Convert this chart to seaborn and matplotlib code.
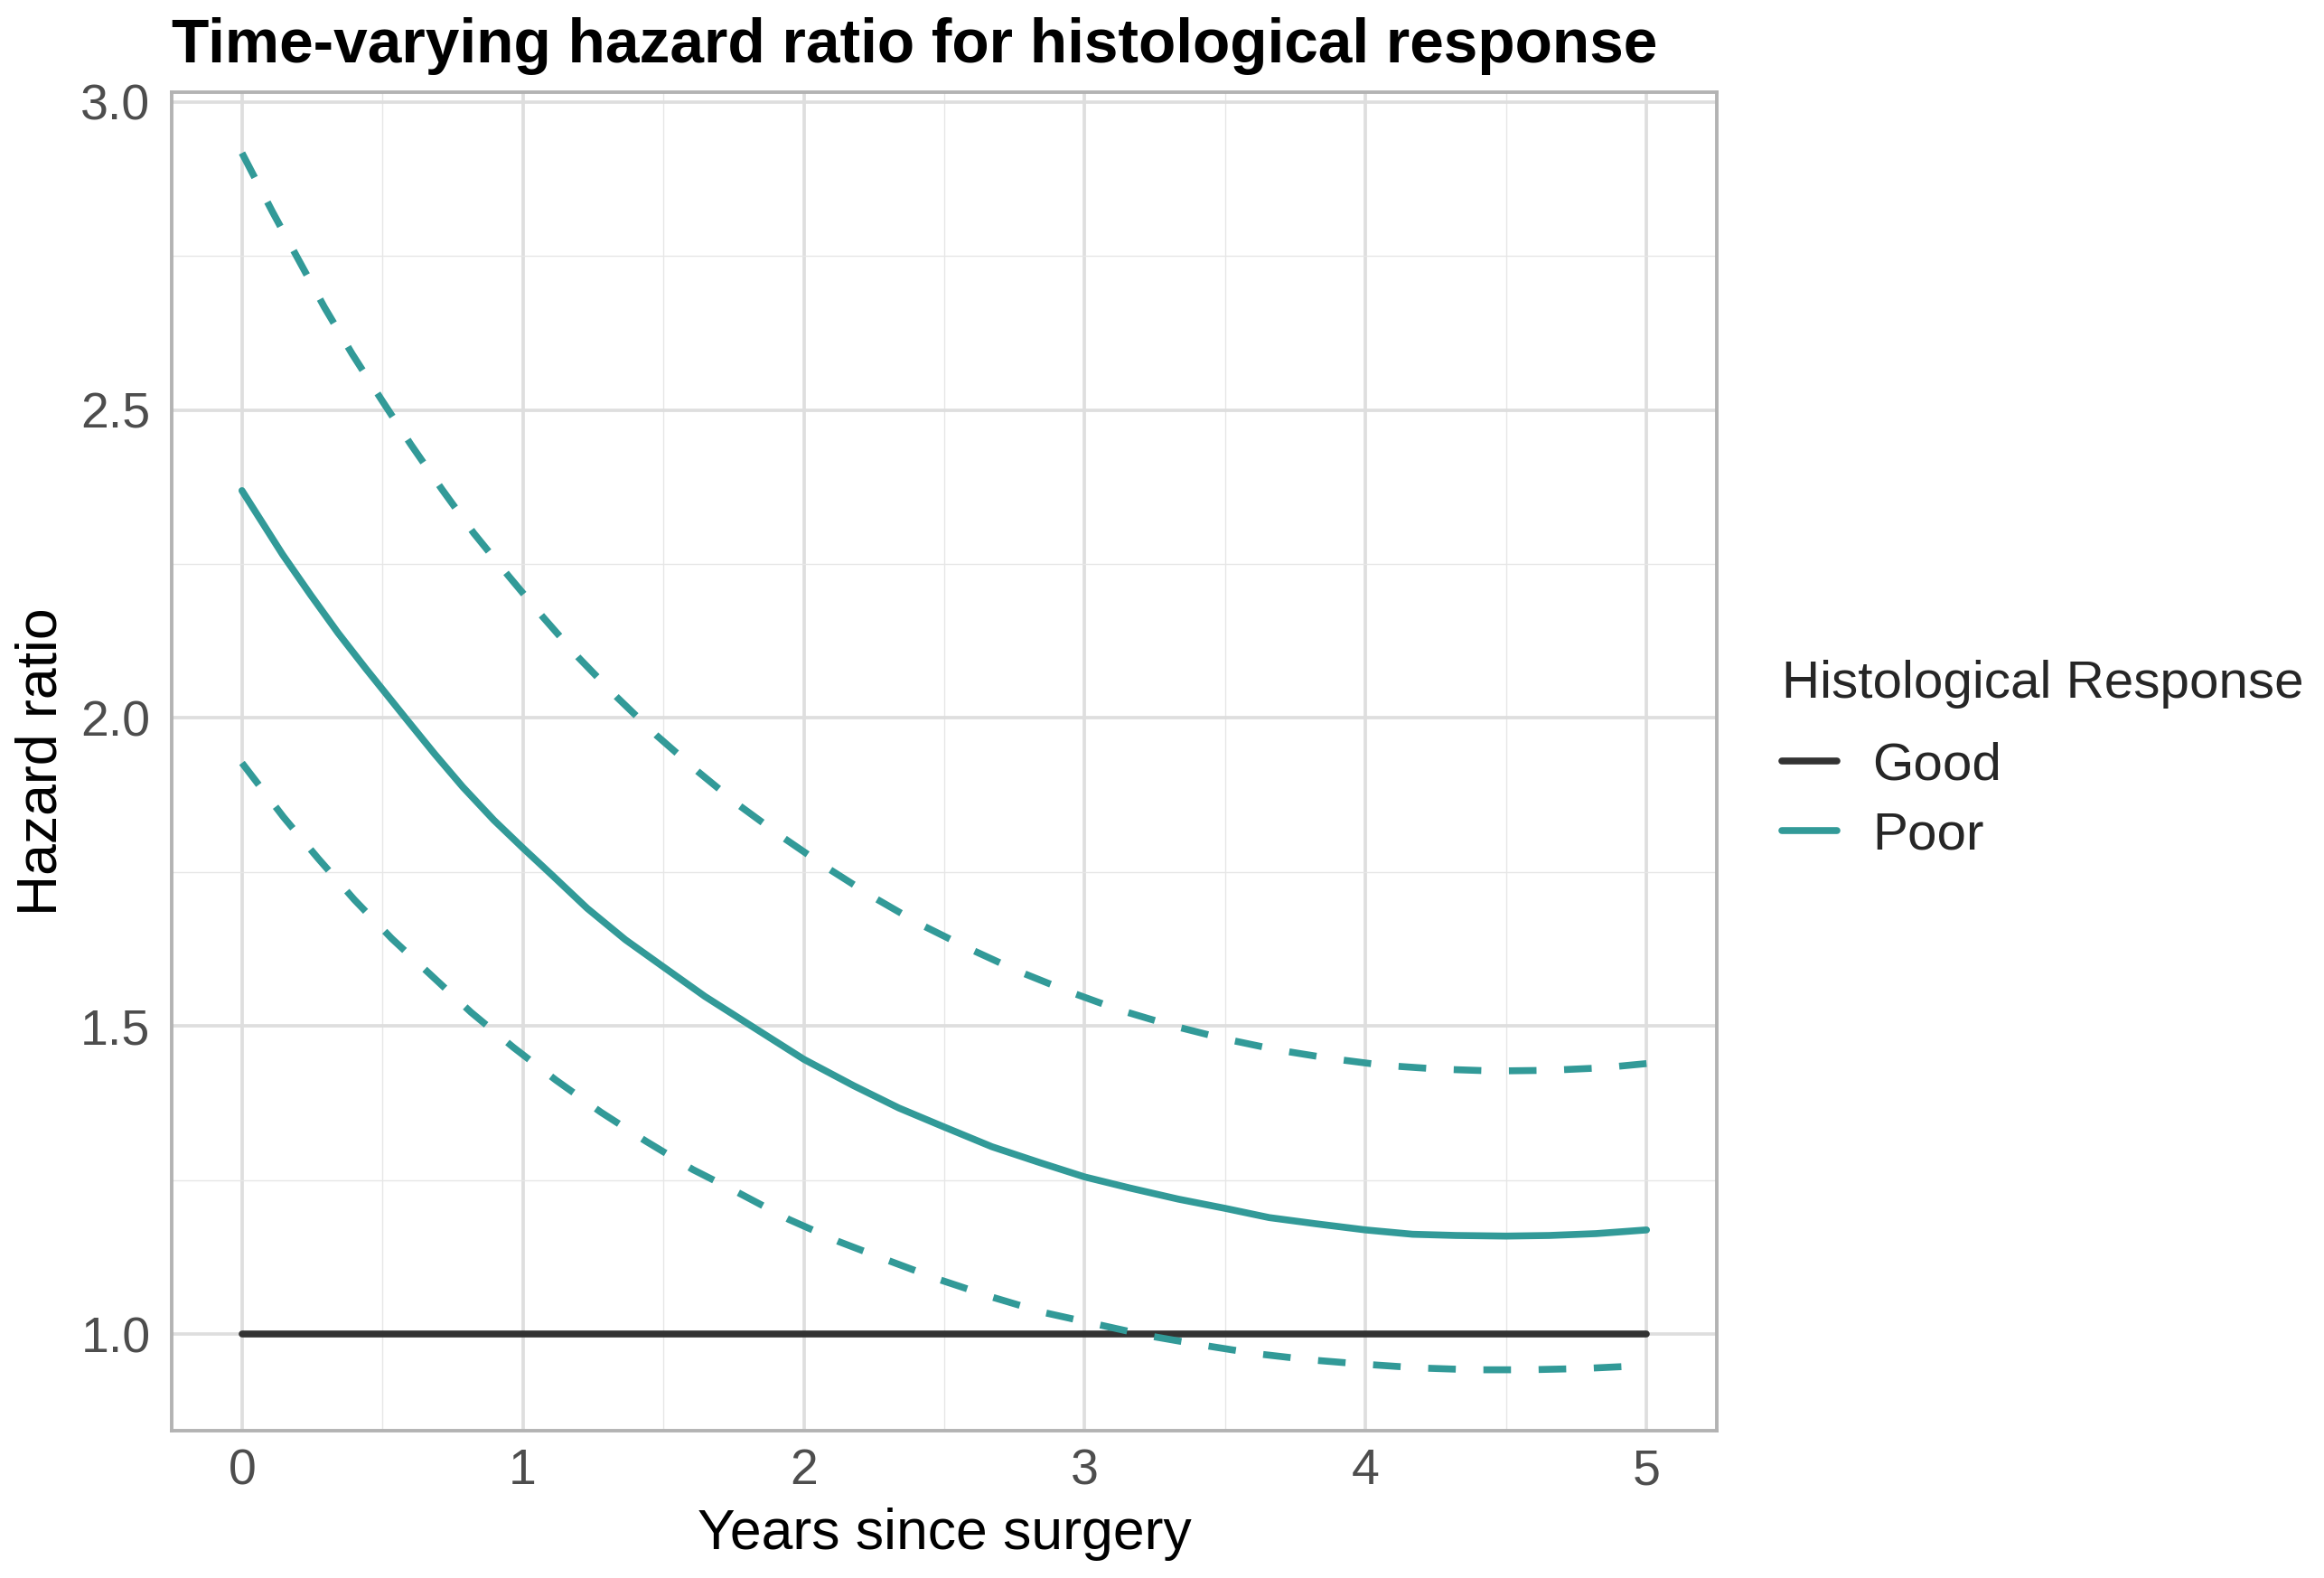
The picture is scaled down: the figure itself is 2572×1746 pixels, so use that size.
import numpy as np
import pandas as pd
import seaborn as sns
import matplotlib
matplotlib.use("Agg")
import matplotlib.pyplot as plt
from matplotlib.lines import Line2D
from matplotlib.ticker import MultipleLocator

# ---- data ----
good_t = [0, 5]
good_hr = [1.0, 1.0]

poor_t = [0, 0.145, 0.244, 0.342, 0.441, 0.589, 0.687, 0.786, 0.897, 1.0, 1.106, 1.229,
          1.365, 1.5, 1.648, 1.810, 2.0, 2.178, 2.338, 2.5, 2.670, 2.842, 3.0, 3.161,
          3.333, 3.5, 3.657, 3.823, 4.0, 4.167, 4.322, 4.5, 4.654, 4.820, 5.0]
poor_hr = [2.369, 2.265, 2.200, 2.138, 2.080, 1.996, 1.941, 1.888, 1.834, 1.789, 1.744, 1.691,
           1.640, 1.596, 1.548, 1.501, 1.446, 1.403, 1.367, 1.336, 1.304, 1.278, 1.255, 1.237,
           1.219, 1.204, 1.189, 1.179, 1.169, 1.162, 1.160, 1.159, 1.160, 1.163, 1.169]

upper_t = [0, 0.108, 0.201, 0.293, 0.392, 0.496, 0.601, 0.712, 0.825, 0.948, 1.071, 1.198,
           1.334, 1.475, 1.623, 1.770, 1.926, 2.086, 2.248, 2.415, 2.587, 2.763, 2.943, 3.124,
           3.308, 3.499, 3.688, 3.879, 4.069, 4.262, 4.456, 4.648, 4.840, 5.0]
upper_hr = [2.917, 2.822, 2.744, 2.667, 2.591, 2.517, 2.444, 2.371, 2.300, 2.231, 2.164, 2.098,
            2.034, 1.972, 1.913, 1.858, 1.806, 1.756, 1.709, 1.665, 1.626, 1.589, 1.556, 1.526,
            1.501, 1.479, 1.461, 1.447, 1.436, 1.430, 1.427, 1.428, 1.432, 1.439]

lower_t = [0, 0.148, 0.271, 0.400, 0.533, 0.672, 0.816, 0.967, 1.118, 1.278, 1.438, 1.605,
           1.752, 1.947, 2.125, 2.303, 2.485, 2.670, 2.854, 3.042, 3.230, 3.419, 3.613, 3.805,
           3.996, 4.190, 4.384, 4.578, 4.771, 5.0]
lower_hr = [1.927, 1.839, 1.772, 1.705, 1.642, 1.583, 1.522, 1.465, 1.412, 1.360, 1.313, 1.267,
            1.233, 1.186, 1.150, 1.119, 1.088, 1.060, 1.035, 1.016, 0.997, 0.982, 0.968, 0.958,
            0.951, 0.945, 0.942, 0.942, 0.944, 0.949]

groups = ["Good", "Poor"]
colors = {"Good": "#333333", "Poor": "#329A98"}

est = pd.concat([
    pd.DataFrame({"t": good_t, "hr": good_hr, "Histological Response": "Good"}),
    pd.DataFrame({"t": poor_t, "hr": poor_hr, "Histological Response": "Poor"}),
], ignore_index=True)
upper = pd.DataFrame({"t": upper_t, "hr": upper_hr})
lower = pd.DataFrame({"t": lower_t, "hr": lower_hr})

# ---- style ----
sns.set_theme(style="white")
plt.rcParams["font.family"] = ["Liberation Sans", "DejaVu Sans"]

fig = plt.figure(figsize=(25.72, 17.46), dpi=100)
ax = fig.add_axes([0.0739, 0.0934, 0.6648, 0.8482])

LW = 5.5
sns.lineplot(data=est, x="t", y="hr", hue="Histological Response", hue_order=groups,
             palette=colors, linewidth=LW, legend=False, ax=ax, zorder=3)
for df in [upper, lower]:
    sns.lineplot(data=df, x="t", y="hr", color=colors["Poor"], linewidth=LW,
                 legend=False, ax=ax, zorder=3)
for ln in ax.lines[-2:]:
    ln.set_linestyle((0, (4, 4)))

allv = good_hr + poor_hr + upper_hr + lower_hr
lo, hi = min(allv), max(allv)
pad = 0.05 * (hi - lo)
ax.set_xlim(-0.25, 5.25)
ax.set_ylim(lo - pad, hi + pad)

ax.xaxis.set_major_locator(MultipleLocator(1))
ax.xaxis.set_minor_locator(MultipleLocator(0.5))
ax.yaxis.set_major_locator(MultipleLocator(0.5))
ax.yaxis.set_minor_locator(MultipleLocator(0.25))
ax.grid(which="major", color="#DEDEDE", linewidth=2.7)
ax.grid(which="minor", color="#E6E6E6", linewidth=1.0)
ax.set_axisbelow(True)
for s in ax.spines.values():
    s.set_visible(True)
    s.set_color("#B3B3B3")
    s.set_linewidth(2.8)
ax.tick_params(which="major", length=9, width=2.8, color="#B3B3B3",
               labelsize=40, labelcolor="#4D4D4D")
ax.tick_params(axis="x", pad=5)
ax.tick_params(axis="y", pad=8)
ax.tick_params(which="minor", length=0)
ax.set_xticklabels([f"{v:g}" for v in ax.get_xticks()])

ax.set_xlabel("Years since surgery", fontsize=45, color="black", labelpad=10)
ax.set_ylabel("Hazard ratio", fontsize=45, color="black", labelpad=10)
ax.set_title("Time-varying hazard ratio for histological response", loc="left",
             fontsize=48.7, fontweight="bold", color="black", pad=24)

handles = [Line2D([0], [0], color=colors[g], linewidth=LW) for g in groups]
leg = fig.legend(handles, groups, title="Histological Response", loc="upper left",
                 bbox_to_anchor=(0.7668, 0.5817), frameon=False, fontsize=42,
                 title_fontsize=42, handlelength=1.05, handletextpad=0.67,
                 labelspacing=0.4, borderaxespad=0, borderpad=0)
leg._legend_box.align = "left"
leg._legend_box.sep = 26

fig.savefig("out.png", dpi=100)
